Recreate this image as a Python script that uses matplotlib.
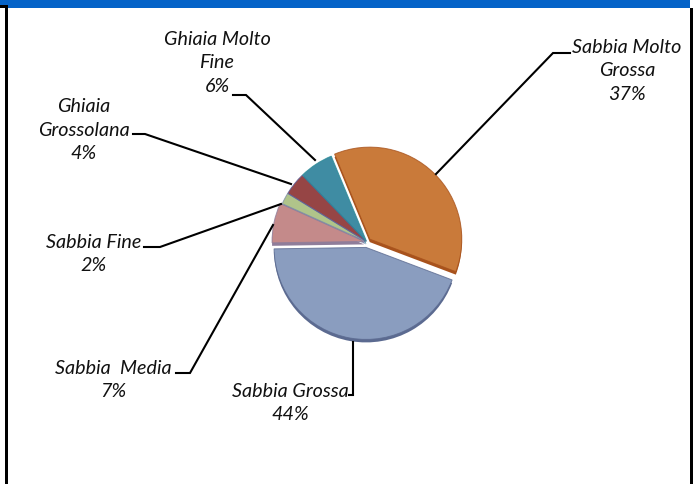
import matplotlib
matplotlib.use("Agg")
import matplotlib.pyplot as plt
from matplotlib.patches import Rectangle

W, H = 696, 484

labels = ["Sabbia Molto\nGrossa", "Sabbia Grossa", "Sabbia  Media", "Sabbia Fine",
          "Ghiaia\nGrossolana", "Ghiaia Molto\nFine"]
values = [37, 44, 7, 2, 4, 6]
colors = ["#c97a3a", "#8a9dbf", "#c48a8a", "#b0c48a", "#964545", "#3f8ca3"]
edges = ["#a8521c", "#5b6a90", "#8f7d9a", "#7f8fa8", "#5a5a96", "#2a8a96"]
# pie offsets are in axes data units, which are pixels here
explode = [4, 5.5, 3, 1, 1, 1]

# (text x, text y, leader points) in pixels from the top left
label_pos = [
    (627, 71, [(436, 174), (553, 53), (570, 53)]),
    (290, 403, [(353, 342), (353, 395), (349, 395)]),
    (113, 380, [(273, 225), (190, 373), (176, 373)]),
    (94, 254, [(281, 204), (160, 247), (144, 247)]),
    (84, 130, [(291, 184), (145, 134), (133, 134)]),
    (217, 63, [(315, 160), (246, 95), (233, 95)]),
]


def flip(y):
    return H - y


plt.rcParams["font.family"] = ["Lato", "DejaVu Sans"]

fig = plt.figure(figsize=(W / 100, H / 100), dpi=100)
ax = fig.add_axes([0, 0, 1, 1])

# darker copy underneath gives the bevelled rim
ax.pie(values, colors=edges, explode=explode, startangle=112.5, counterclock=False,
       radius=92, center=(367, flip(245)))
ax.pie(values, colors=colors, explode=explode, startangle=112.5, counterclock=False,
       radius=92, center=(367, flip(242)))
# thin coloured outline on the top faces
wedges, _ = ax.pie(values, colors=["none"] * len(values), explode=explode, startangle=112.5,
                   counterclock=False, radius=92, center=(367, flip(242)))
for w, c in zip(wedges, edges):
    w.set_edgecolor(c)
    w.set_linewidth(0.7)
    w.set_alpha(0.8)
    w.set_facecolor("none")

pcts = ["%d%%" % v for v in values]
for lab, pct, (tx, ty, pts) in zip(labels, pcts, label_pos):
    ax.plot([p[0] for p in pts], [flip(p[1]) for p in pts], color="black", lw=1.5,
            solid_joinstyle="miter", zorder=5)
    ax.text(tx, flip(ty), lab + "\n" + pct, ha="center", va="center", fontsize=14.2,
            style="italic", color="#111111", linespacing=1.48, zorder=6)

# page frame: blue band on top, black rules down the sides
ax.add_patch(Rectangle((0, flip(8)), 690, 8, color="#0563c8", lw=0, zorder=7))
ax.add_patch(Rectangle((0, flip(8)), 8, 3, color="black", lw=0, zorder=8))
ax.add_patch(Rectangle((5, 0), 3, H - 5, color="black", lw=0, zorder=8))
ax.add_patch(Rectangle((690, 0), 3, H - 8, color="black", lw=0, zorder=8))

ax.set_aspect("auto")
ax.set_xlim(0, W)
ax.set_ylim(0, H)
ax.axis("off")

fig.savefig("out.png", dpi=100)
